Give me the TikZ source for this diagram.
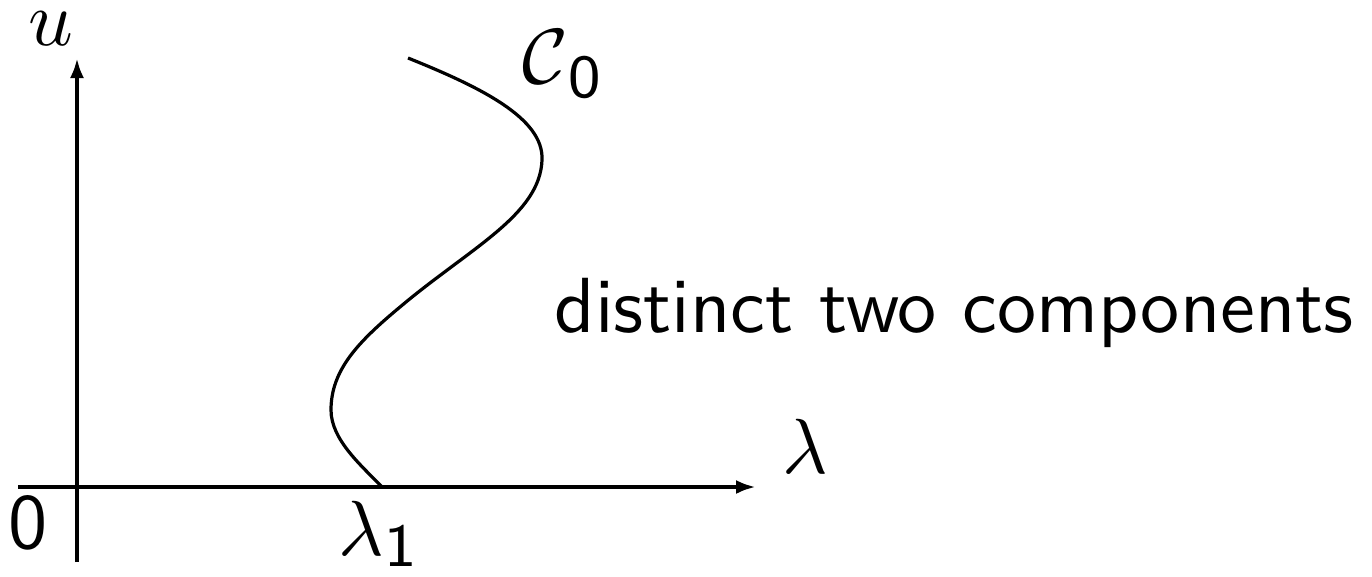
\documentclass[tikz,border=0pt]{standalone}
\usepackage{amsmath}
\usetikzlibrary{arrows.meta}
\newcommand{\subsf}[2]{\raisebox{-#1pt}{\fontsize{7.8}{8}\selectfont\sffamily #2}}
\begin{document}
\begin{tikzpicture}[x=1pt,y=-1pt,
  axis/.style={line width=4pt,-{Latex[length=20pt,width=14pt]}},
  curv/.style={line width=3.2pt},
  lbl/.style={inner sep=0pt,scale=7.82,transform shape,anchor=base west}]
\useasboundingbox (0,0) rectangle (1372,576);
\coordinate (ob) at (77,562);
\coordinate (ot) at (77,58);
\coordinate (ol) at (18,487);
\coordinate (orr) at (756,487);
\draw[axis] (ob) -- (ot);
\draw[axis] (ol) -- (orr);
\coordinate (c0) at (408,58);
\coordinate (c4) at (382,487);
\draw[curv] (c0) .. controls (480,87) and (544,118) .. (542,160)
  .. controls (540,215) and (470,248) .. (400,307)
  .. controls (358,342) and (331,370) .. (331,410)
  .. controls (331,440) and (362,466) .. (c4);
\node[lbl] (u) at (27,45) {$u$};
\node[lbl] (C) at (521,83) {$\mathcal{C}$\subsf{1.9}{0}};
\node[lbl] (lam) at (781,473) {$\lambda$};
\node[lbl] (zero) at (7,548) {\sffamily 0};
\node[lbl] (lam1) at (337,555) {$\lambda$\subsf{1.5}{1}};
\node[lbl] (txt) at (553,332) {\sffamily distinct two components};
\end{tikzpicture}
\end{document}
